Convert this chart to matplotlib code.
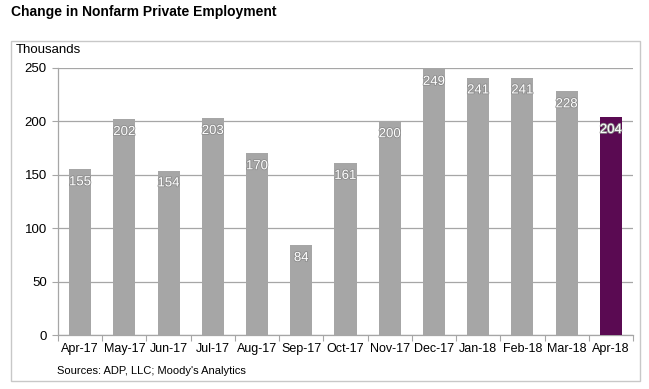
import matplotlib
matplotlib.use("Agg")
import matplotlib.pyplot as plt
import matplotlib.patheffects as pe
from matplotlib.patches import Rectangle

plt.rcParams['font.family'] = ['Liberation Sans', 'DejaVu Sans']

months = ["Apr-17", "May-17", "Jun-17", "Jul-17", "Aug-17", "Sep-17", "Oct-17",
          "Nov-17", "Dec-17", "Jan-18", "Feb-18", "Mar-18", "Apr-18"]
values = [155, 202, 154, 203, 170, 84, 161, 200, 249, 241, 241, 228, 204]
y_ticks = [0, 50, 100, 150, 200, 250]

W, H = 649, 389
fig = plt.figure(figsize=(W / 100, H / 100), dpi=100)

# outer frame
fig.patches.append(Rectangle((11 / W, 1 - 381 / H), (640 - 11) / W, (381 - 41) / H,
                             transform=fig.transFigure, fill=False,
                             edgecolor='#C8C8C8', linewidth=1.0))

ax = fig.add_axes([58 / W, 1 - 335 / H, (633 - 58) / W, (335 - 68) / H])

colors = ['#A6A6A6'] * (len(values) - 1) + ['#5A0A52']
x = list(range(len(values)))
ax.bar(x, values, width=0.5, color=colors, zorder=3)

for xi, v in zip(x, values):
    ax.text(xi, v - 12, str(v), ha='center', va='center', color='white',
            fontsize=9.5, zorder=4,
            path_effects=[pe.withStroke(linewidth=1.2, foreground='#8C8C8C')])

ax.set_xlim(-0.5, len(values) - 0.5)
ax.set_ylim(0, 250)
ax.set_yticks(y_ticks)
ax.set_yticklabels([str(t) for t in y_ticks], fontsize=9.5)
ax.yaxis.grid(True, color='#A6A6A6', linewidth=0.9, zorder=0)
ax.set_axisbelow(True)

ax.set_xticks([i - 0.5 for i in range(len(values) + 1)])
ax.set_xticklabels([])
ax.set_xticks(x, minor=True)
ax.set_xticklabels(months, minor=True, fontsize=9)
ax.tick_params(axis='x', which='minor', length=0, pad=6)
ax.tick_params(axis='x', which='major', length=4, color='#A6A6A6', direction='out')
ax.tick_params(axis='y', length=4, color='#A6A6A6', direction='out', pad=4)

for s in ['top', 'right']:
    ax.spines[s].set_visible(False)
for s in ['left', 'bottom']:
    ax.spines[s].set_color('#A6A6A6')
    ax.spines[s].set_linewidth(0.9)

fig.text(11 / W, 1 - 12 / H, "Change in Nonfarm Private Employment", fontsize=10,
         fontweight='bold', ha='left', va='center')
fig.text(16 / W, 1 - 50 / H, "Thousands", fontsize=9.5, ha='left', va='center')
fig.text(57 / W, 1 - 371 / H, "Sources: ADP, LLC; Moody's Analytics", fontsize=8,
         ha='left', va='center')

fig.savefig("out.png", dpi=100)
